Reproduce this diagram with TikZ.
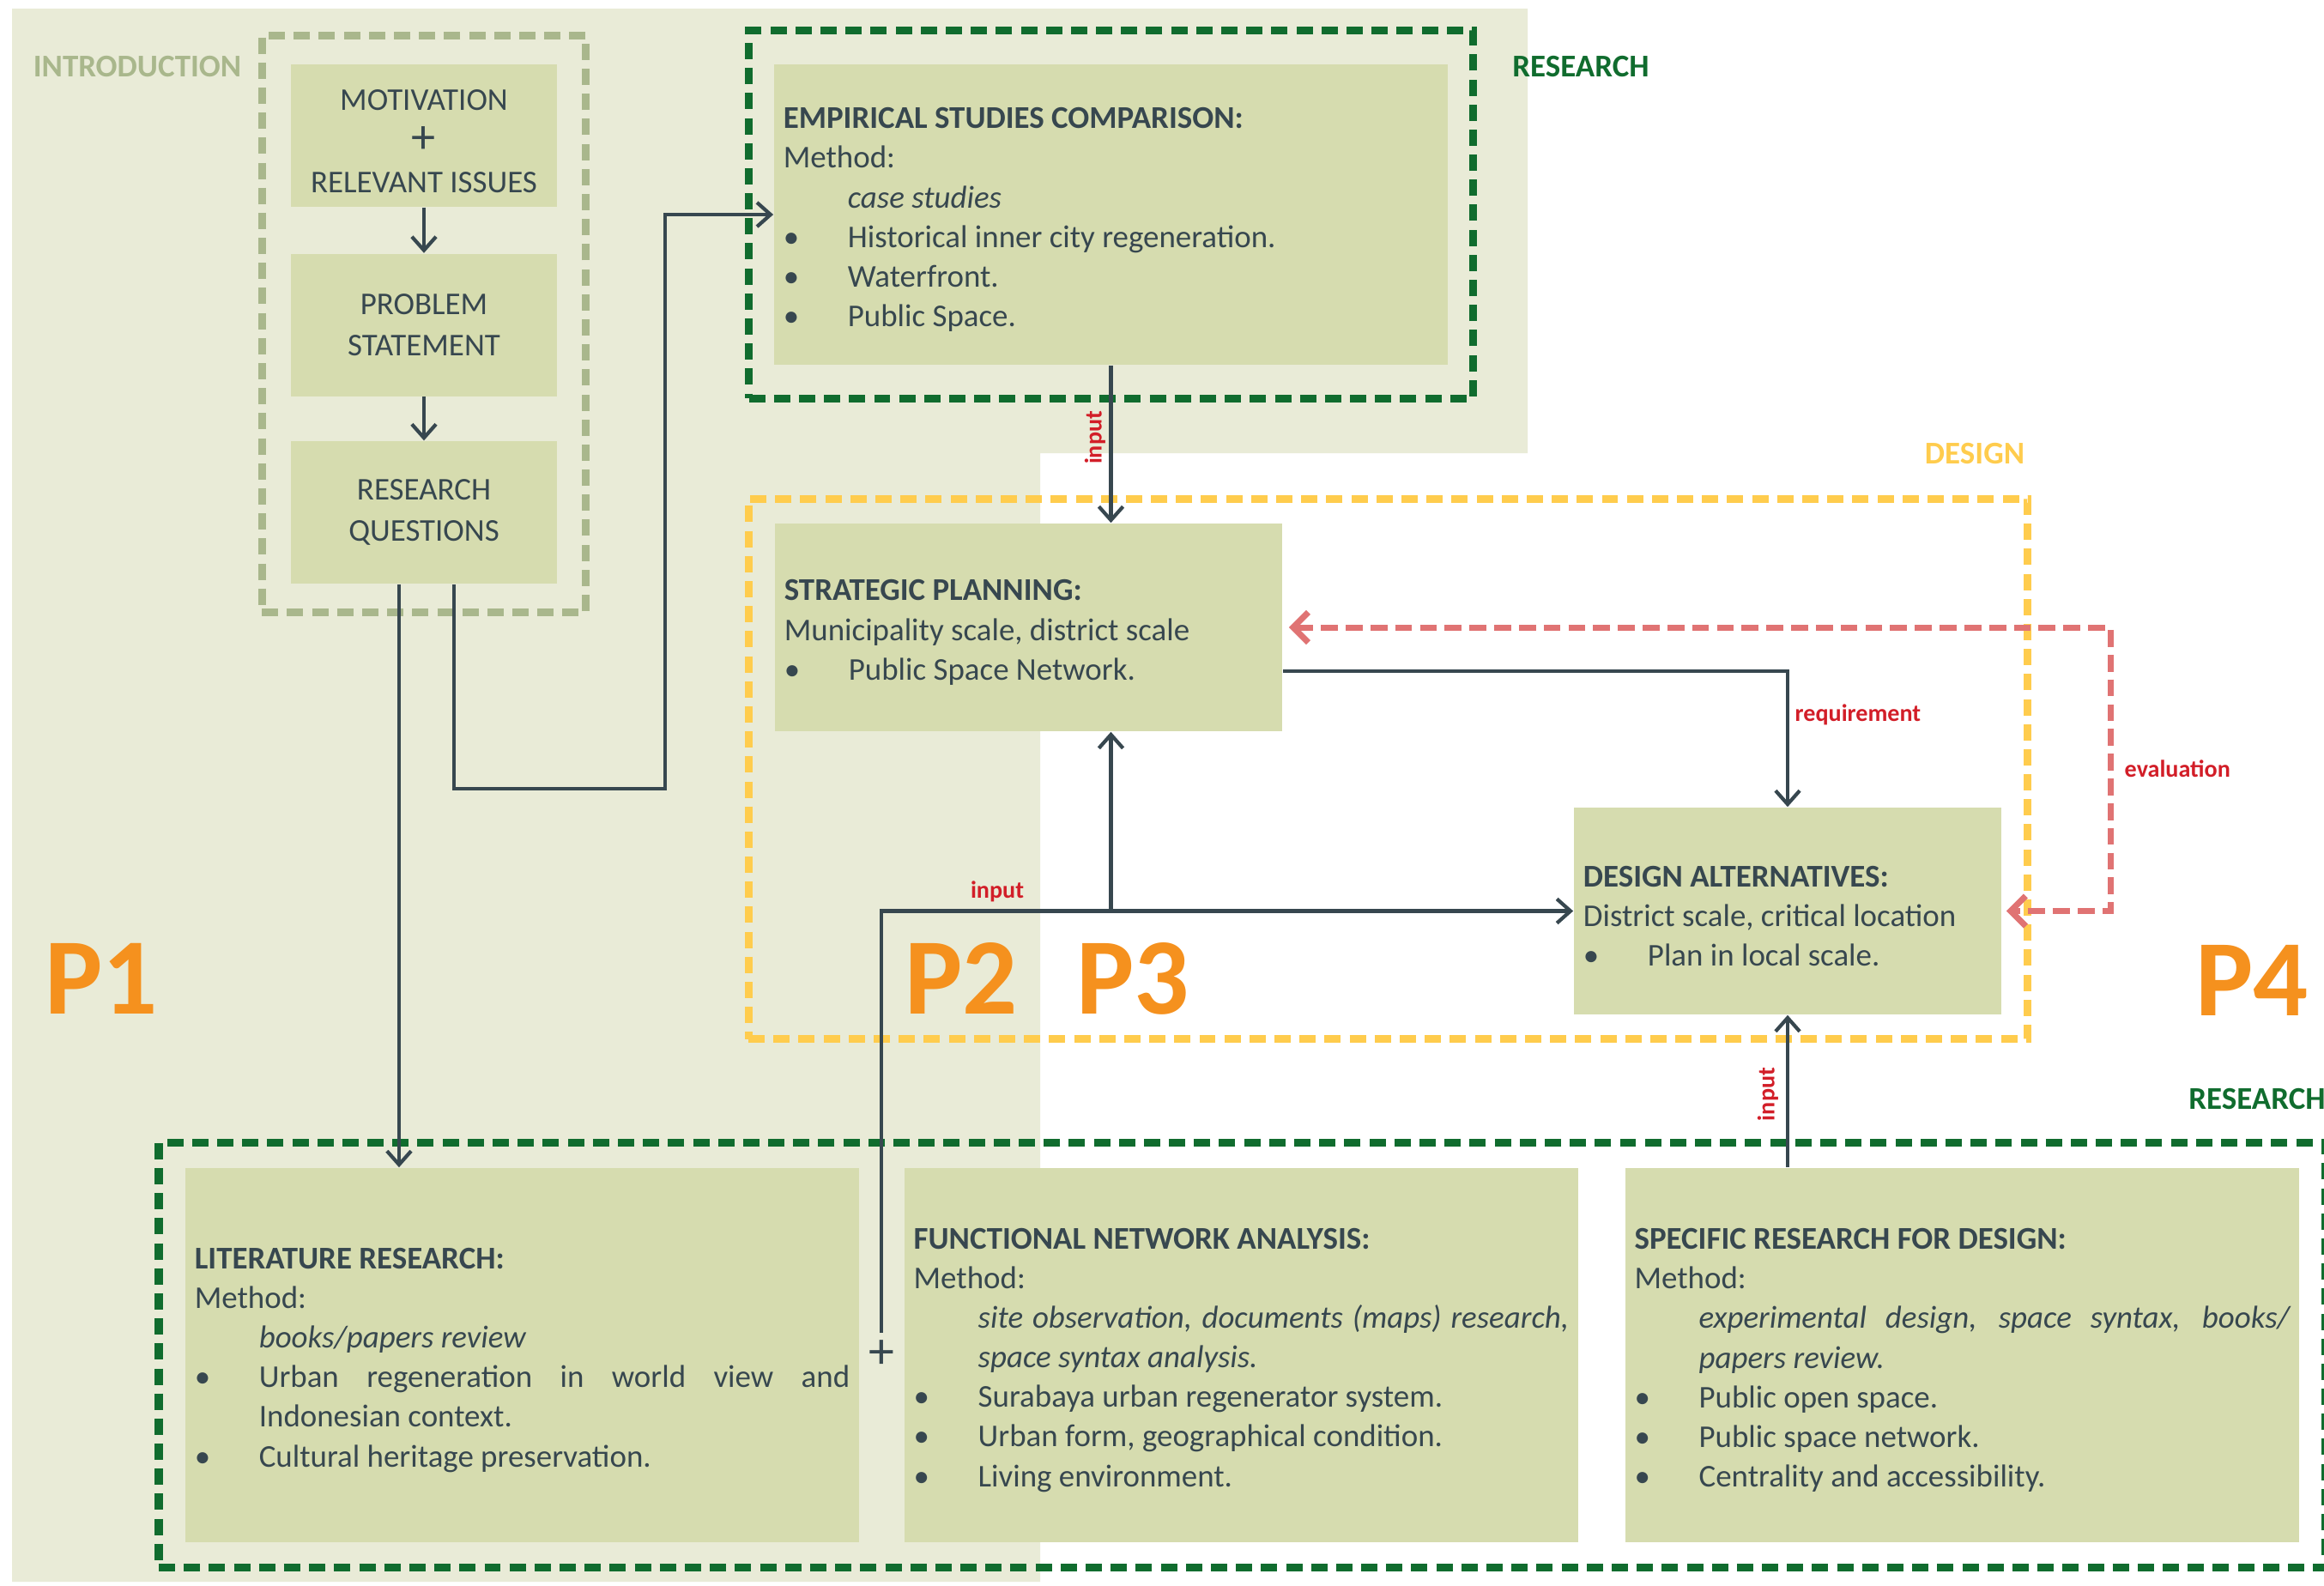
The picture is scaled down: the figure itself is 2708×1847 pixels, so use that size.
\documentclass[tikz,border=0pt]{standalone}
\usepackage{fontspec}
\setmainfont{Carlito}
\usepackage{tikz}
\usetikzlibrary{arrows.meta,positioning,fit}
\definecolor{bgsoft}{RGB}{233,235,215}
\definecolor{boxfill}{RGB}{214,220,175}
\definecolor{ink}{RGB}{55,71,79}
\definecolor{introgreen}{RGB}{169,183,140}
\definecolor{resgreen}{RGB}{16,108,46}
\definecolor{desyellow}{RGB}{255,204,77}
\definecolor{evalred}{RGB}{224,115,115}
\definecolor{labred}{RGB}{210,30,40}
\definecolor{porange}{RGB}{245,145,30}
\newlength\bulind
\setlength\bulind{0.75cm}
\newcommand\ptitle[1]{\rule{0pt}{0.36cm}\textbf{#1}\par}
\newcommand\mthd[1]{\par{\leftskip=\bulind\noindent\itshape #1\par}}
\newcommand\bitem[1]{\par{\leftskip=\bulind\noindent\llap{\makebox[\bulind][l]{\textbullet}}#1\par}}
\newcommand\bigplus{\smash{\raisebox{-0.5pt}{\fontsize{16}{16}\selectfont +}}}
\tikzset{
  introbox/.style={rectangle, fill=boxfill, text=ink, align=center, minimum width=3.1cm, minimum height=1.66cm, font=\fontsize{10.5}{13.66}\selectfont},
  panel/.style={rectangle, fill=boxfill, text=ink, align=justify, inner xsep=0.11cm, inner ysep=0pt, minimum height=4.36cm, text width=7.63cm, font=\fontsize{10.5}{13.1}\selectfont},
  dashframe/.style={draw=#1, line width=2.6pt, dash pattern=on 5.4pt off 2.9pt, inner sep=0.3cm},
  tag/.style={font=\fontsize{10.5}{12}\selectfont\bfseries, text=#1, inner sep=0pt},
  phase/.style={font=\fontsize{36}{36}\selectfont\bfseries, text=porange, inner sep=0pt},
  flowlabel/.style={font=\fontsize{8}{9}\selectfont\bfseries, text=labred, inner sep=0pt},
  plusmark/.style={text=ink, inner sep=0pt, font=\fontsize{17}{17}\selectfont},
  arrow/.style={-{Straight Barb[length=4.5pt,width=8pt]}, line width=1.2pt, draw=ink},
  evalarrow/.style={{Straight Barb[length=5pt,width=10pt]}-{Straight Barb[length=5pt,width=10pt]}, line width=2pt, draw=evalred, dash pattern=on 5.6pt off 2.6pt}
}
\begin{document}
\begin{tikzpicture}[x=0.01cm, y=-0.01cm]
\useasboundingbox (0,0) rectangle (2708,1847);
\fill[bgsoft] (14,10) -- (1780,10) -- (1780,528) -- (1212,528) -- (1212,1843) -- (14,1843) -- cycle;

% introduction column
\node[introbox] (mot) at (494,158) {\rule{0pt}{0.37cm}MOTIVATION\\\bigplus\\RELEVANT ISSUES};
\node[introbox, below=0.53cm of mot] (prob) {PROBLEM\\STATEMENT};
\node[introbox, below=0.51cm of prob] (rq) {RESEARCH\\QUESTIONS};

% research and design blocks
\node[panel, minimum height=3.5cm] (emp) at (1294.5,250) {\ptitle{EMPIRICAL STUDIES COMPARISON:}Method:\mthd{case studies}\bitem{Historical inner city regeneration.}\bitem{Waterfront.}\bitem{Public Space.}};
\node[panel, text width=5.69cm, minimum height=2.42cm] (strat) at (1198.5,731) {\ptitle{STRATEGIC PLANNING:}Municipality scale, district scale\bitem{Public Space Network.}};
\node[panel, text width=4.76cm, minimum height=2.41cm] (alt) at (2083,1061.5) {\ptitle{DESIGN ALTERNATIVES:}District scale, critical location\bitem{Plan in local scale.}};
\node[panel] (lit) at (608.5,1579) {\ptitle{LITERATURE RESEARCH:}Method:\mthd{books/papers review}\bitem{Urban regeneration in world view and\linebreak Indonesian context.}\bitem{Cultural heritage preservation.}};
\node[panel, right=0.51cm of lit] (fna) {\ptitle{FUNCTIONAL NETWORK ANALYSIS:}Method:\mthd{site observation, documents (maps) research,\linebreak space syntax analysis.}\bitem{Surabaya urban regenerator system.}\bitem{Urban form, geographical condition.}\bitem{Living environment.}};
\node[panel, right=0.53cm of fna] (srd) {\ptitle{SPECIFIC RESEARCH FOR DESIGN:}Method:\mthd{experimental design, space syntax, books/\linebreak papers review.}\bitem{Public open space.}\bitem{Public space network.}\bitem{Centrality and accessibility.}};

% dashed frames
\node[dashframe=introgreen, fit=(mot)(rq), inner sep=0.33cm] (introframe) {};
\node[dashframe=resgreen, fit=(emp), inner xsep=0.285cm, inner ysep=0.385cm] (empframe) {};
\node[dashframe=desyellow, fit=(strat)(alt), inner xsep=0.3cm, inner ysep=0.28cm] (desframe) {};
\node[dashframe=resgreen, fit=(lit)(srd), inner xsep=0.3cm, inner ysep=0.29cm] (litframe) {};

% labels
\node[tag=introgreen] (introtag) at (160,78) {INTRODUCTION};
\node[tag=resgreen] (restag) at (1842,78) {RESEARCH};
\node[tag=desyellow] (destag) at (2301,529) {DESIGN};
\node[tag=resgreen] (restagb) at (2630,1280) {RESEARCH};
\node[phase] (pone) at (118,1140) {P1};
\node[phase] (ptwo) at (1120,1140) {P2};
\node[phase] (pthree) at (1320,1140) {P3};
\node[phase] (pfour) at (2624,1142) {P4};
\node[plusmark] (plus) at (1027,1578) {+};

% connectors
\draw[arrow] (mot) -- (prob);
\draw[arrow] (prob) -- (rq);
\draw[arrow] ([xshift=-0.29cm]rq.south) -- ([xshift=-0.29cm]rq.south |- lit.north);
\coordinate (rqbend) at (775,919);
\draw[arrow] ([xshift=0.35cm]rq.south) |- (rqbend) |- (emp.west);
\draw[arrow] (emp.south) -- (emp.south |- strat.north);
\node[flowlabel, rotate=90] (inputa) at (1276,510) {input};
\draw[arrow] ([yshift=0.25cm]plus.center) |- (alt.west);
\draw[arrow] (emp.south |- alt.west) -- (emp.south |- strat.south);
\node[flowlabel] (inputb) at (1162,1039) {input};
\draw[arrow] ([yshift=-0.51cm]strat.east) -| (alt.north);
\node[flowlabel, anchor=west] (reqlab) at (2091,833) {requirement};
\coordinate (evalturn) at (2459,900);
\draw[evalarrow, shorten <=0.07cm, shorten >=0.05cm] (strat.east) -| (evalturn) |- (alt.east);
\node[flowlabel, anchor=west] (evallab) at (2475,896) {evaluation};
\draw[arrow] (alt.south |- srd.north) -- (alt.south);
\node[flowlabel, rotate=90] (inputc) at (2060,1275) {input};
\end{tikzpicture}
\end{document}
